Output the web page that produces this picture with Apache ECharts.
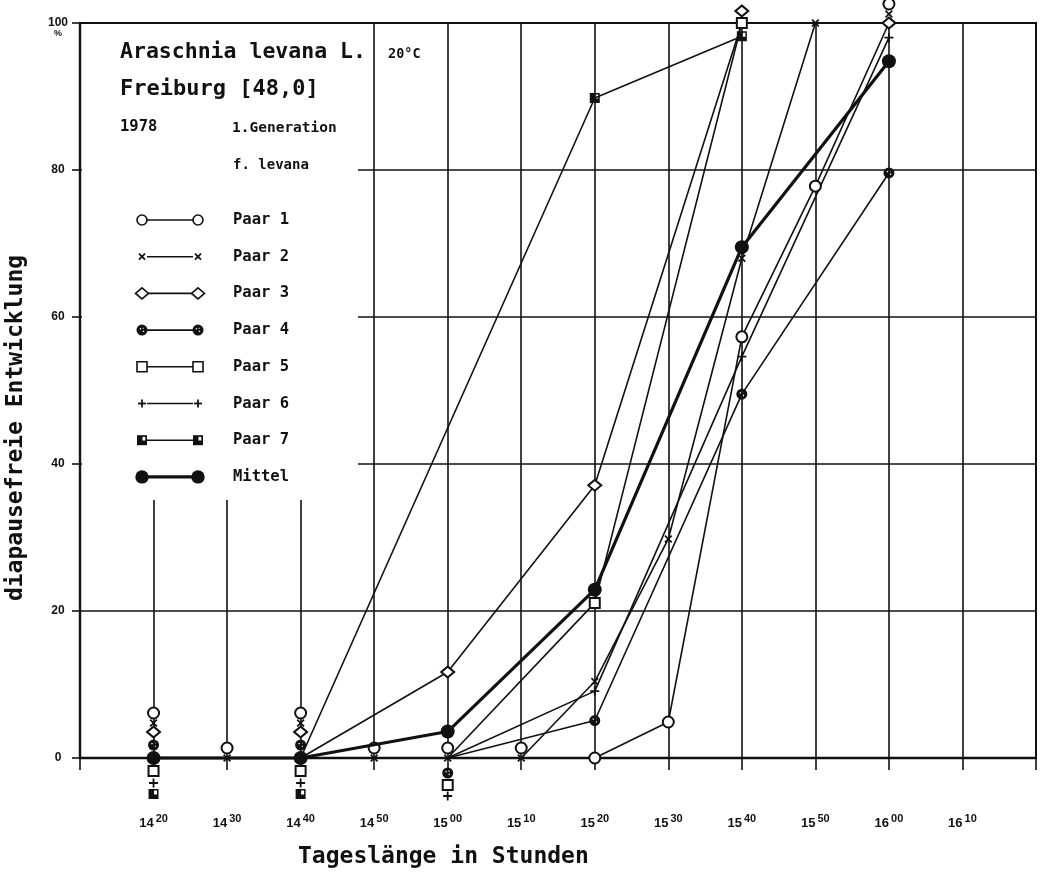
<!DOCTYPE html>
<html>
<head>
<meta charset="utf-8">
<title>Araschnia levana L. – diapausefreie Entwicklung</title>
<script src="https://cdn.jsdelivr.net/npm/echarts@6/dist/echarts.min.js"></script>
<style>
  html, body {margin: 0; padding: 0; background: #fff;}
  #chart {width: 1043px; height: 875px;}
</style>
</head>
<body>
<div id="chart"></div>
<script>
// Tageslänge in Minuten (14:20 = 860)
const times = [860, 870, 880, 890, 900, 910, 920, 930, 940, 950, 960];

const paar1X = times;
const paar1 = [0, 0, 0, 0, 0, 0, 0, 4.9, 57.3, 77.8, 100];
const paar2X = times;
const paar2 = [0, 0, 0, 0, 0, 0, 10.4, 29.8, 68.0, 100, 100];
const paar3X = [860, 880, 900, 920, 940, 960];
const paar3 = [0, 0, 11.7, 37.1, 100, 100];
const paar4X = [860, 880, 900, 920, 940, 960];
const paar4 = [0, 0, 0, 5.1, 49.5, 79.6];
const paar5X = [860, 880, 900, 920, 940];
const paar5 = [0, 0, 0, 21.1, 100];
const paar6X = [860, 880, 900, 920, 940, 960];
const paar6 = [0, 0, 0, 9.1, 54.6, 98.0];
const paar7X = [860, 880, 920, 940];
const paar7 = [0, 0, 89.8, 98.2];
const mittelX = [860, 880, 900, 920, 940, 960];
const mittel = [0, 0, 3.6, 22.9, 69.5, 94.8];

const yTicks = [0, 20, 40, 60, 80, 100];

const INK = '#111';
const MONO = '"DejaVu Sans Mono", monospace';

// gleiche Werte sind im Original uebereinander gezeichnet (Versatz in px)
const stackOffsets = {
  'Paar 1': {860: -45, 870: -10, 880: -45, 890: -10, 900: -10, 910: -10, 960: -19},
  'Paar 2': {860: -35, 880: -35, 960: -9},
  'Paar 3': {860: -26, 880: -26, 940: -12},
  'Paar 4': {860: -13, 880: -13, 900: 15},
  'Paar 5': {860: 13, 880: 13, 900: 27},
  'Paar 6': {860: 25, 880: 25, 900: 38},
  'Paar 7': {860: 36, 880: 36},
  'Mittel': {}
};

const symX = 'path://M1.5,0L5,3.5L8.5,0L10,1.5L6.5,5L10,8.5L8.5,10L5,6.5L1.5,10L0,8.5L3.5,5L0,1.5Z';
const symPlus = 'path://M4,0H6V4H10V6H6V10H4V6H0V4H4Z';
const symDotted = 'path://M0,5A5,5,0,1,1,10,5A5,5,0,1,1,0,5Z M3,3.2L3,4.4L4.2,4.4L4.2,3.2Z M5.8,5.6L5.8,6.8L7,6.8L7,5.6Z M5.6,2.8L5.6,3.8L6.6,3.8L6.6,2.8Z';
const symFilledSq = 'path://M0,0H10V10H0Z M5.5,1.5V5.5H8.5V1.5Z';

const seriesDefs = [
  {name: 'Paar 1', xs: paar1X, ys: paar1, symbol: 'emptyCircle', size: 11, width: 1.6, empty: true},
  {name: 'Paar 2', xs: paar2X, ys: paar2, symbol: symX, size: 8, width: 1.6},
  {name: 'Paar 3', xs: paar3X, ys: paar3, symbol: 'emptyDiamond', size: [13, 11], width: 1.6, empty: true},
  {name: 'Paar 4', xs: paar4X, ys: paar4, symbol: symDotted, size: 11, width: 1.6},
  {name: 'Paar 5', xs: paar5X, ys: paar5, symbol: 'emptyRect', size: 10, width: 1.6, empty: true},
  {name: 'Paar 6', xs: paar6X, ys: paar6, symbol: symPlus, size: 9, width: 1.6},
  {name: 'Paar 7', xs: paar7X, ys: paar7, symbol: symFilledSq, size: 10, width: 1.6},
  {name: 'Mittel', xs: mittelX, ys: mittel, symbol: 'circle', size: 14, width: 3.2}
];

const series = seriesDefs.map(function (d) {
  const offs = stackOffsets[d.name];
  const data = d.xs.map(function (x, i) {
    const item = {value: [x, d.ys[i]]};
    if (offs[x] !== undefined) item.symbolOffset = [0, offs[x]];
    return item;
  });
  return {
    name: d.name,
    type: 'line',
    data: data,
    symbol: d.symbol,
    symbolSize: d.size,
    showAllSymbol: true,
    clip: false,
    z: d.name === 'Mittel' ? 4 : 3,
    lineStyle: {color: INK, width: d.width},
    itemStyle: {color: INK, borderColor: INK, borderWidth: d.empty ? 1.6 : 0},
    emphasis: {disabled: true}
  };
});

// Legende: Symbol – Linie – Symbol
function mark(name, cx, cy) {
  const stroke = {stroke: INK, lineWidth: 1.6};
  switch (name) {
    case 'Paar 1':
      return [{type: 'circle', shape: {cx: cx, cy: cy, r: 5}, style: Object.assign({fill: '#fff'}, stroke)}];
    case 'Paar 2':
      return [
        {type: 'line', shape: {x1: cx - 3, y1: cy - 3, x2: cx + 3, y2: cy + 3}, style: {stroke: INK, lineWidth: 1.8}},
        {type: 'line', shape: {x1: cx - 3, y1: cy + 3, x2: cx + 3, y2: cy - 3}, style: {stroke: INK, lineWidth: 1.8}}
      ];
    case 'Paar 3':
      return [{type: 'polygon', shape: {points: [[cx, cy - 5.5], [cx + 6.5, cy], [cx, cy + 5.5], [cx - 6.5, cy]]},
        style: Object.assign({fill: '#fff'}, stroke)}];
    case 'Paar 4':
      return [
        {type: 'circle', shape: {cx: cx, cy: cy, r: 5.5}, style: {fill: INK}},
        {type: 'rect', shape: {x: cx - 2.2, y: cy - 2, width: 1.3, height: 1.3}, style: {fill: '#fff'}},
        {type: 'rect', shape: {x: cx + 0.8, y: cy + 0.6, width: 1.3, height: 1.3}, style: {fill: '#fff'}},
        {type: 'rect', shape: {x: cx + 0.6, y: cy - 2.4, width: 1.1, height: 1.1}, style: {fill: '#fff'}}
      ];
    case 'Paar 5':
      return [{type: 'rect', shape: {x: cx - 5, y: cy - 5, width: 10, height: 10}, style: Object.assign({fill: '#fff'}, stroke)}];
    case 'Paar 6':
      return [
        {type: 'line', shape: {x1: cx - 4, y1: cy, x2: cx + 4, y2: cy}, style: {stroke: INK, lineWidth: 1.8}},
        {type: 'line', shape: {x1: cx, y1: cy - 4, x2: cx, y2: cy + 4}, style: {stroke: INK, lineWidth: 1.8}}
      ];
    case 'Paar 7':
      return [
        {type: 'rect', shape: {x: cx - 5, y: cy - 5, width: 10, height: 10}, style: {fill: INK}},
        {type: 'rect', shape: {x: cx + 0.5, y: cy - 3.3, width: 2.8, height: 3.6}, style: {fill: '#fff'}}
      ];
    default:
      return [{type: 'circle', shape: {cx: cx, cy: cy, r: 6.7}, style: {fill: INK}}];
  }
}

const graphics = [
  // Legendenfeld deckt das Gitter ab
  {type: 'rect', z: 1, silent: true, shape: {x: 82, y: 24, width: 276, height: 476}, style: {fill: '#fff'}},
  {type: 'text', z: 10, x: 120, y: 52, style: {text: 'Araschnia levana L.', font: 'bold 21.5px ' + MONO, fill: INK, verticalAlign: 'middle'}},
  {type: 'text', z: 10, x: 388, y: 54, style: {text: '20°C', font: 'bold 13.5px ' + MONO, fill: INK, verticalAlign: 'middle'}},
  {type: 'text', z: 10, x: 120, y: 89, style: {text: 'Freiburg [48,0]', font: 'bold 22px ' + MONO, fill: INK, verticalAlign: 'middle'}},
  {type: 'text', z: 10, x: 120, y: 127, style: {text: '1978', font: 'bold 15.5px ' + MONO, fill: INK, verticalAlign: 'middle'}},
  {type: 'text', z: 10, x: 232, y: 128, style: {text: '1.Generation', font: 'bold 14.5px ' + MONO, fill: INK, verticalAlign: 'middle'}},
  {type: 'text', z: 10, x: 233, y: 165, style: {text: 'f. levana', font: 'bold 14px ' + MONO, fill: INK, verticalAlign: 'middle'}},
  {type: 'text', z: 10, x: 58, y: 34, style: {text: '%', font: 'bold 9px "Liberation Sans"', fill: INK, align: 'center', verticalAlign: 'middle'}},
  {type: 'text', z: 10, x: 16, y: 428, rotation: Math.PI / 2,
    style: {text: 'diapausefreie Entwicklung', font: 'bold 23px ' + MONO, fill: INK, align: 'center', verticalAlign: 'middle'}},
  {type: 'text', z: 10, x: 298, y: 857,
    style: {text: 'Tageslänge in Stunden', font: 'bold 23px ' + MONO, fill: INK, verticalAlign: 'middle'}}
];

seriesDefs.forEach(function (d, i) {
  const cy = 220 + i * 36.7;
  graphics.push({type: 'line', z: 10, shape: {x1: 147, y1: cy, x2: 193, y2: cy},
    style: {stroke: INK, lineWidth: d.name === 'Mittel' ? 3.2 : 1.6}});
  mark(d.name, 142, cy).concat(mark(d.name, 198, cy)).forEach(function (el) {
    el.z = 11;
    graphics.push(el);
  });
  graphics.push({type: 'text', z: 10, x: 233, y: cy, style: {text: d.name, font: 'bold 15.5px ' + MONO, fill: INK, verticalAlign: 'middle'}});
});

function pad(n) {
  return n < 10 ? '0' + n : '' + n;
}

const chart = echarts.init(document.getElementById('chart'));
chart.setOption({
  animation: false,
  backgroundColor: '#fff',
  grid: {left: 80, right: 7, top: 23, bottom: 117, show: true, borderColor: INK, borderWidth: 2},
  xAxis: {
    type: 'value',
    min: 850,
    max: 980,
    interval: 10,
    axisLine: {show: true, onZero: false, lineStyle: {color: INK, width: 2.4}},
    axisTick: {show: true, length: 12, lineStyle: {color: INK, width: 1.6}},
    splitLine: {show: true, lineStyle: {color: INK, width: 1.6}},
    axisLabel: {
      margin: 55,
      formatter: function (v) {
        if (v <= 850 || v >= 980) return '';
        return '{h|' + Math.floor(v / 60) + '}{m|' + pad(v % 60) + '}';
      },
      rich: {
        h: {fontSize: 13, fontWeight: 'bold', fontFamily: 'Liberation Sans', color: INK, lineHeight: 20},
        m: {fontSize: 11, fontWeight: 'bold', fontFamily: 'Liberation Sans', color: INK, lineHeight: 8,
          verticalAlign: 'top', padding: [0, 0, 0, 2]}
      }
    }
  },
  yAxis: {
    type: 'value',
    min: yTicks[0],
    max: yTicks[yTicks.length - 1],
    interval: yTicks[1] - yTicks[0],
    axisLine: {show: true, lineStyle: {color: INK, width: 2.4}},
    axisTick: {show: true, length: 8, lineStyle: {color: INK, width: 1.6}},
    splitLine: {show: true, lineStyle: {color: INK, width: 1.6}},
    axisLabel: {margin: 22, align: 'center', fontSize: 12, fontWeight: 'bold', fontFamily: 'Liberation Sans', color: INK}
  },
  graphic: graphics,
  series: series
});
</script>
</body>
</html>
